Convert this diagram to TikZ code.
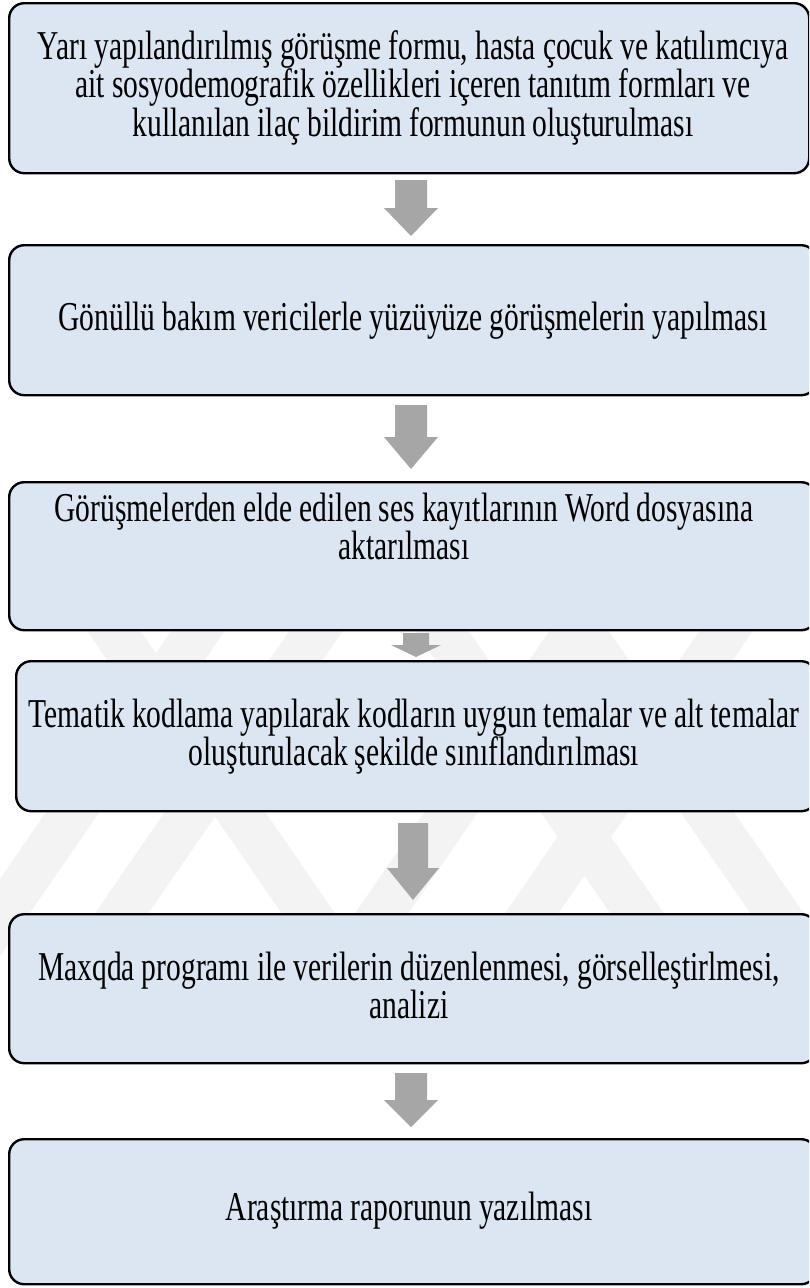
\documentclass[tikz,border=0pt]{standalone}
\usepackage{fontspec}
\setmainfont{Liberation Serif}[FakeStretch=0.72]
\usetikzlibrary{calc}
\hyphenpenalty=10000
\exhyphenpenalty=10000
\definecolor{boxfill}{HTML}{DCE6F2}
\definecolor{arrowgray}{HTML}{A6A6A6}
\definecolor{wmgray}{HTML}{F3F3F3}
\tikzset{
  box/.style={draw=black, line width=2.4pt, fill=boxfill, rounded corners=15pt,
    anchor=north west, inner sep=0pt},
  txt/.style={anchor=base, align=center, text width=820pt, inner sep=0pt,
    font=\fontsize{41pt}{37pt}\selectfont,
    execute at begin node={\spaceskip=7pt\relax\xspaceskip=7pt\relax}},
  arr/.style={fill=arrowgray, draw=none},
  wm/.style={draw=wmgray, line width=44pt}
}
\newcommand\blockarr[6]{% cx, top, headstart, tip, shaft half, head half
  \fill[arr] ({#1-#5},#2) -- ({#1+#5},#2) -- ({#1+#5},#3) -- ({#1+#6},#3)
    -- (#1,#4) -- ({#1-#6},#3) -- ({#1-#5},#3) -- cycle;}
\begin{document}
\begin{tikzpicture}[x=1pt,y=-1pt]
\useasboundingbox (0,0) rectangle (809,1288);
\clip (0,0) rectangle (809,1288);
% watermark
\begin{scope}
\clip (0,560) rectangle (809,1000);
\draw[wm] (365,560) -- (62,1000);
\draw[wm] (625,560) -- (322,1000);
\draw[wm] (775,560) -- (472,1000);
\draw[wm] (247,560) -- (-57,1000);
\draw[wm] (65,560) -- (368,1000);
\draw[wm] (393,560) -- (697,1000);
\draw[wm] (533,560) -- (837,1000);
\end{scope}
% boxes
\node[box, minimum width=800pt, minimum height=170pt] (b1) at (8,2) {};
\node[box, minimum width=807pt, minimum height=150pt] (b2) at (8,244) {};
\node[box, minimum width=807pt, minimum height=148pt] (b3) at (8,481) {};
\node[box, minimum width=800pt, minimum height=150pt] (b4) at (15,660) {};
\node[box, minimum width=807pt, minimum height=149pt] (b5) at (8,913) {};
\node[box, minimum width=807pt, minimum height=145pt] (b6) at (8,1138) {};
% texts
\node[txt] (t1) at (413,59) {Yarı yapılandırılmış görüşme formu, hasta çocuk ve katılımcıya\\ait sosyodemografik özellikleri içeren tanıtım formları ve\\kullanılan ilaç bildirim formunun oluşturulması};
\node[txt] (t2) at (413,330) {Gönüllü bakım vericilerle yüzüyüze görüşmelerin yapılması};
\node[txt] (t3) at (404,521) {Görüşmelerden elde edilen ses kayıtlarının Word dosyasına\\aktarılması};
\node[txt] (t4) at (414,727) {Tematik kodlama yapılarak kodların uygun temalar ve alt temalar\\oluşturulacak şekilde sınıflandırılması};
\node[txt] (t5) at (409,980) {Maxqda programı ile verilerin düzenlenmesi, görselleştirlmesi,\\analizi};
\node[txt] (t6) at (409,1220) {Araştırma raporunun yazılması};
% arrows
\blockarr{411}{180}{208}{236}{16}{27}
\blockarr{411}{405}{437}{469}{16}{27}
\blockarr{416}{633}{645}{657}{13}{25}
\blockarr{413}{823}{868}{900}{15}{26}
\blockarr{411}{1073}{1100}{1127}{16}{27}
\end{tikzpicture}
\end{document}
